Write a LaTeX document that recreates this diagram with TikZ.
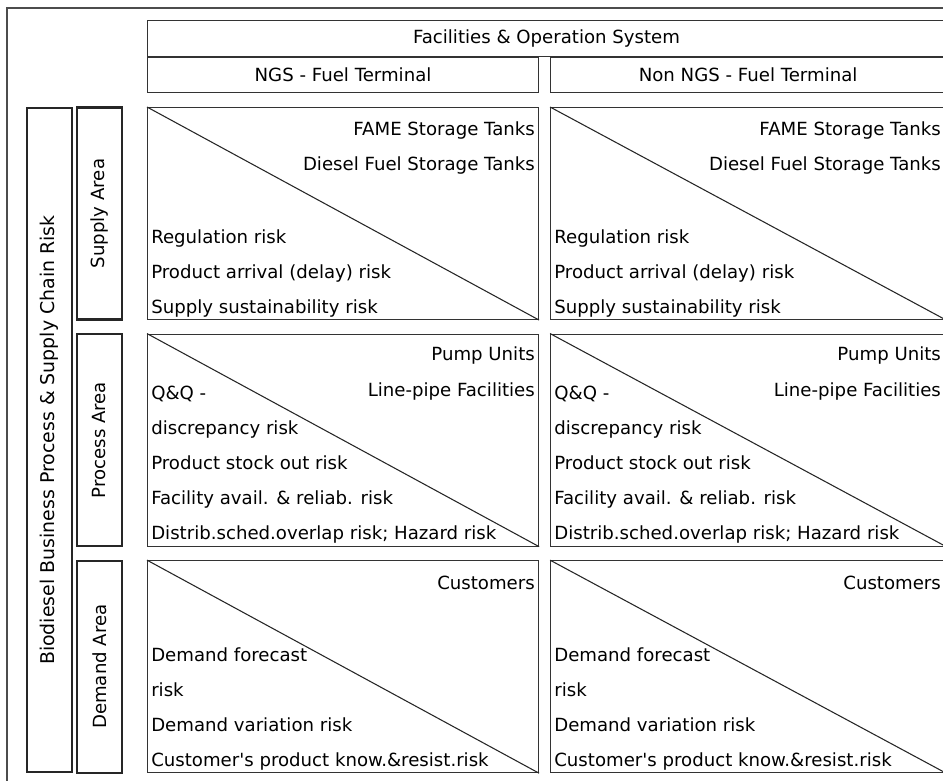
\documentclass[tikz,border=0pt]{standalone}
\usepackage{xcolor}
\usepackage{fontspec}
\setmainfont{DejaVu Sans}
\usepackage{tikz}
\usetikzlibrary{positioning, calc}

\begin{document}
\begin{tikzpicture}[x=0.75pt, y=-0.75pt, font=\fontsize{13.6}{16}\selectfont,
    cell/.style={rectangle, draw=black!80, line width=0.8pt, minimum width=293.25pt, minimum height=159pt, inner sep=0pt, anchor=north west},
    widecell/.style={minimum width=296.25pt},
    header/.style={rectangle, draw=black!80, line width=0.9pt, minimum height=26.25pt, inner sep=0pt},
    sidebox/.style={rectangle, draw=black!85, line width=1.6pt, minimum height=33.75pt, inner sep=0pt, rotate=90},
    asset/.style={anchor=base east, inner sep=0pt},
    risk/.style={anchor=base west, inner sep=0pt},
    diag/.style={draw=black!85, line width=0.8pt}]

    \useasboundingbox (0,0) rectangle (943,781);

    % Outer frame
    \draw[black!70, line width=1.1pt] (943,8) -- (7,8) -- (7,781);

    % Cells
    \node[cell] (ngs_supply) at (147,107) {};
    \node[cell, widecell, right=8.25pt of ngs_supply] (non_supply) {};
    \node[cell, below=10.125pt of ngs_supply] (ngs_process) {};
    \node[cell, widecell, below=10.125pt of non_supply] (non_process) {};
    \node[cell, below=10.125pt of ngs_process] (ngs_demand) {};
    \node[cell, widecell, below=10.125pt of non_process] (non_demand) {};

    % Header
    \node[header, minimum width=293.25pt, above=10.5pt of ngs_supply] (ngs_head) {NGS - Fuel Terminal};
    \node[header, minimum width=296.25pt, above=10.5pt of non_supply] (non_head) {Non NGS - Fuel Terminal};
    \node[header, minimum width=598.5pt, minimum height=27pt, anchor=south west] (facilities) at (ngs_head.north west) {Facilities \& Operation System};

    % Left side boxes
    \node[sidebox, minimum width=498pt, font=\fontsize{14.2}{16}\selectfont] (biodiesel) at ($(ngs_process.west)+(-97.5,0)$) {Biodiesel Business Process \& Supply Chain Risk};
    \node[sidebox, minimum width=159pt] (supply_area) at ($(ngs_supply.west)+(-47.5,0)$) {Supply Area};
    \node[sidebox, minimum width=159pt] (process_area) at ($(ngs_process.west)+(-47.5,0)$) {Process Area};
    \node[sidebox, minimum width=159pt] (demand_area) at ($(ngs_demand.west)+(-47.5,0)$) {Demand Area};

    % Diagonals
    \draw[diag] (ngs_supply.north west) -- (ngs_supply.south east);
    \draw[diag] (non_supply.north west) -- (non_supply.south east);
    \draw[diag] (ngs_process.north west) -- (ngs_process.south east);
    \draw[diag] (non_process.north west) -- (non_process.south east);
    \draw[diag] (ngs_demand.north west) -- (ngs_demand.south east);
    \draw[diag] (non_demand.north west) -- (non_demand.south east);

    % NGS - Supply
    \node[asset] (ngs_fame) at ($(ngs_supply.north east)+(-4,29)$) {FAME Storage Tanks};
    \node[asset] (ngs_diesel) at ($(ngs_supply.north east)+(-4,64)$) {Diesel Fuel Storage Tanks};
    \node[risk] (ngs_regulation) at ($(ngs_supply.south west)+(4,-77)$) {Regulation risk};
    \node[risk] (ngs_arrival) at ($(ngs_supply.south west)+(4,-42)$) {Product arrival (delay) risk};
    \node[risk] (ngs_sustain) at ($(ngs_supply.south west)+(4,-7)$) {Supply sustainability risk};

    % Non NGS - Supply
    \node[asset] (non_fame) at ($(non_supply.north east)+(-5,29)$) {FAME Storage Tanks};
    \node[asset] (non_diesel) at ($(non_supply.north east)+(-5,64)$) {Diesel Fuel Storage Tanks};
    \node[risk] (non_regulation) at ($(non_supply.south west)+(4,-77)$) {Regulation risk};
    \node[risk] (non_arrival) at ($(non_supply.south west)+(4,-42)$) {Product arrival (delay) risk};
    \node[risk] (non_sustain) at ($(non_supply.south west)+(4,-7)$) {Supply sustainability risk};

    % NGS - Process
    \node[asset] (ngs_pump) at ($(ngs_process.north east)+(-4,27)$) {Pump Units};
    \node[asset] (ngs_linepipe) at ($(ngs_process.north east)+(-4,63)$) {Line-pipe Facilities};
    \node[risk] (ngs_qq) at ($(ngs_process.south west)+(4,-147)$) {Q\&Q -};
    \node[risk] (ngs_discrepancy) at ($(ngs_process.south west)+(4,-112)$) {discrepancy risk};
    \node[risk] (ngs_stockout) at ($(ngs_process.south west)+(4,-77)$) {Product stock out risk};
    \node[risk] (ngs_facility) at ($(ngs_process.south west)+(4,-42)$) {Facility avail. \& reliab. risk};
    \node[risk] (ngs_distrib) at ($(ngs_process.south west)+(4,-7)$) {Distrib.sched.overlap risk; Hazard risk};

    % Non NGS - Process
    \node[asset] (non_pump) at ($(non_process.north east)+(-5,27)$) {Pump Units};
    \node[asset] (non_linepipe) at ($(non_process.north east)+(-5,63)$) {Line-pipe Facilities};
    \node[risk] (non_qq) at ($(non_process.south west)+(4,-147)$) {Q\&Q -};
    \node[risk] (non_discrepancy) at ($(non_process.south west)+(4,-112)$) {discrepancy risk};
    \node[risk] (non_stockout) at ($(non_process.south west)+(4,-77)$) {Product stock out risk};
    \node[risk] (non_facility) at ($(non_process.south west)+(4,-42)$) {Facility avail. \& reliab. risk};
    \node[risk] (non_distrib) at ($(non_process.south west)+(4,-7)$) {Distrib.sched.overlap risk; Hazard risk};

    % NGS - Demand
    \node[asset] (ngs_customers) at ($(ngs_demand.north east)+(-4,29)$) {Customers};
    \node[risk] (ngs_forecast) at ($(ngs_demand.south west)+(4,-112)$) {Demand forecast};
    \node[risk] (ngs_forecast_risk) at ($(ngs_demand.south west)+(4,-77)$) {risk};
    \node[risk] (ngs_variation) at ($(ngs_demand.south west)+(4,-42)$) {Demand variation risk};
    \node[risk] (ngs_knowledge) at ($(ngs_demand.south west)+(4,-7)$) {Customer\textquotesingle s product know.\&resist.risk};

    % Non NGS - Demand
    \node[asset] (non_customers) at ($(non_demand.north east)+(-5,29)$) {Customers};
    \node[risk] (non_forecast) at ($(non_demand.south west)+(4,-112)$) {Demand forecast};
    \node[risk] (non_forecast_risk) at ($(non_demand.south west)+(4,-77)$) {risk};
    \node[risk] (non_variation) at ($(non_demand.south west)+(4,-42)$) {Demand variation risk};
    \node[risk] (non_knowledge) at ($(non_demand.south west)+(4,-7)$) {Customer\textquotesingle s product know.\&resist.risk};

\end{tikzpicture}
\end{document}
